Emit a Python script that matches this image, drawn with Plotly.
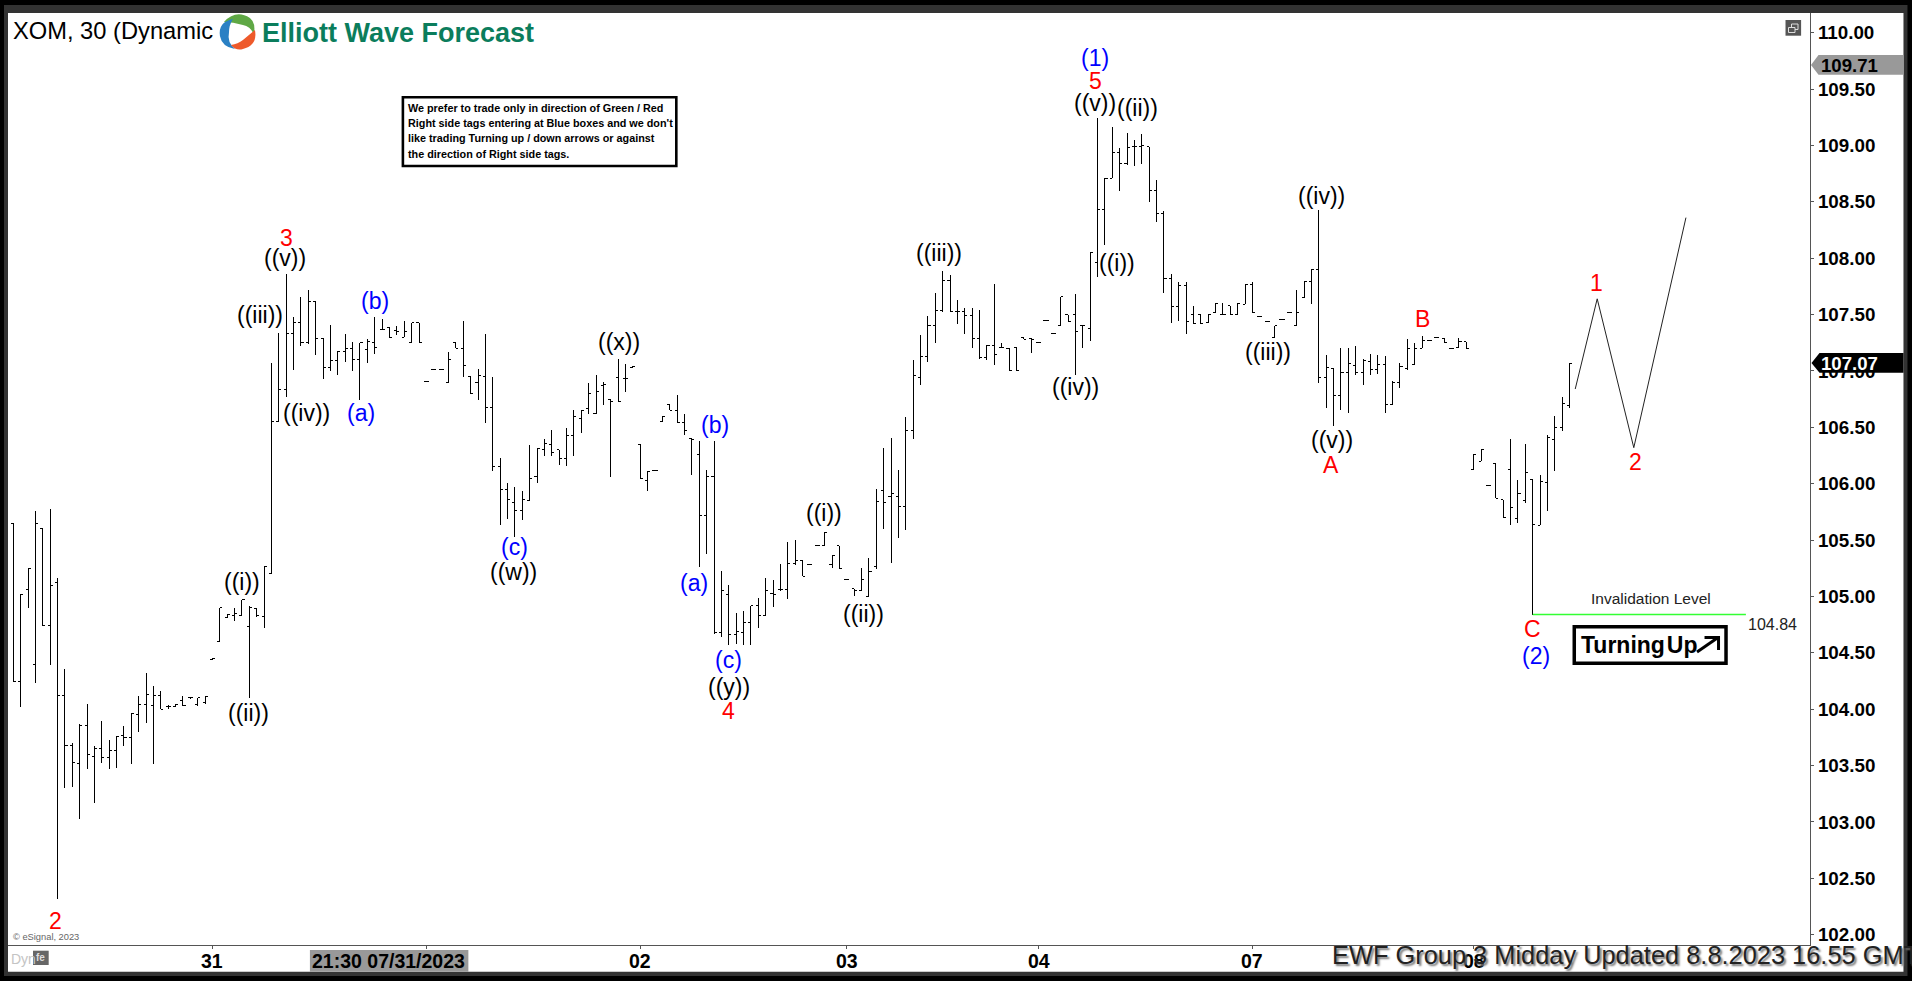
import plotly.graph_objects as go

# XOM 30 minute bars, one value per bar
open_ = [105.65,104.25,105.06,104.40,105.60,104.74,105.12,104.12,103.68,103.52,
         103.86,103.58,103.65,103.57,103.63,103.77,103.75,103.95,104.04,104.03,
         104.12,104.02,104.02,104.08,104.10,104.04,104.06,104.44,104.60,104.81,
         104.83,104.83,104.73,104.89,104.82,105.20,106.55,106.84,107.33,107.43,
         107.25,107.62,107.29,107.03,107.09,107.17,107.20,107.10,107.19,107.25,
         107.37,107.39,107.36,107.30,107.25,107.43,106.91,107.01,107.01,106.90,
         107.25,107.20,106.95,106.90,106.95,106.68,106.15,105.95,105.83,105.76,
         105.85,106.06,106.30,106.35,106.30,106.22,106.43,106.58,106.67,106.62,
         106.87,106.75,106.94,106.93,107.03,106.35,106.03,106.12,106.55,106.70,
         106.65,106.54,106.40,106.26,105.72,106.06,104.68,105.02,104.66,104.68,
         104.77,104.92,104.83,105.03,105.06,105.06,105.29,105.32,105.28,105.45,
         105.45,105.28,105.45,105.15,105.07,105.05,105.00,105.27,105.94,105.89,
         105.89,105.80,106.47,106.94,107.13,107.40,107.54,107.80,107.53,107.53,
         107.49,107.29,107.12,107.23,107.21,107.20,107.21,107.30,107.29,107.25,
         107.45,107.33,107.40,107.50,107.50,107.40,107.38,107.96,108.43,108.71,
         108.94,108.84,108.99,108.99,108.99,108.60,108.40,107.82,107.57,107.76,
         107.50,107.50,107.43,107.52,107.50,107.58,107.50,107.59,107.77,107.48,
         107.44,107.30,107.46,107.52,107.40,107.65,107.79,107.90,106.94,107.02,
         106.78,106.99,107.05,106.99,107.08,107.01,107.06,106.70,106.90,107.02,
         107.06,107.20,107.27,107.30,107.29,107.20,107.21,107.26,106.13,106.20,
         105.98,106.18,105.86,106.13,105.69,105.85,106.04,105.63,106.01,106.39,
         106.50,106.69]
high = [105.65,105.02,105.25,105.76,105.60,105.78,105.16,104.36,103.70,103.87,
        104.05,103.67,103.90,103.73,103.76,103.85,103.97,104.12,104.32,104.21,
        104.16,104.04,104.05,104.12,104.10,104.10,104.11,104.45,104.90,104.84,
        104.90,104.97,104.92,104.89,105.27,107.07,107.34,107.86,107.48,107.66,
        107.72,107.62,107.29,107.41,107.18,107.33,107.26,107.25,107.28,107.48,
        107.46,107.39,107.40,107.44,107.43,107.43,106.91,107.01,107.01,107.17,
        107.25,107.44,106.95,107.02,107.33,106.95,106.23,106.01,105.97,105.94,
        106.34,106.31,106.40,106.48,106.30,106.49,106.65,106.65,106.89,106.96,
        106.90,106.75,107.11,107.06,107.04,106.35,106.11,106.12,106.60,106.70,
        106.79,106.62,106.40,106.38,106.12,106.38,105.23,105.10,104.85,104.87,
        104.92,104.99,105.16,105.15,105.29,105.48,105.50,105.32,105.28,105.45,
        105.57,105.36,105.45,105.15,105.07,105.25,105.34,105.95,106.32,106.41,
        106.12,106.59,107.10,107.32,107.49,107.69,107.89,107.85,107.63,107.56,
        107.56,107.54,107.23,107.77,107.25,107.20,107.21,107.30,107.29,107.25,
        107.45,107.33,107.66,107.50,107.68,107.40,108.05,109.24,108.71,109.16,
        108.98,109.11,109.05,109.10,108.99,108.69,108.42,107.86,107.79,107.79,
        107.58,107.50,107.50,107.60,107.60,107.58,107.60,107.77,107.79,107.48,
        107.44,107.40,107.46,107.52,107.72,107.79,107.90,108.43,107.14,107.02,
        107.20,107.20,107.22,107.11,107.15,107.14,107.13,106.91,107.07,107.28,
        107.25,107.31,107.27,107.30,107.29,107.20,107.29,107.26,106.26,106.30,
        105.98,106.18,105.86,106.40,106.03,106.35,106.04,106.08,106.43,106.60,
        106.77,107.07]
low = [104.24,104.02,104.90,104.23,104.74,104.39,102.32,103.30,103.31,103.03,
       103.47,103.17,103.52,103.47,103.48,103.67,103.51,103.80,103.88,103.51,
       104.00,104.00,104.02,104.03,104.09,104.03,104.05,104.44,104.60,104.81,
       104.78,104.83,104.10,104.82,104.72,105.20,106.55,106.77,107.01,107.22,
       107.24,107.14,106.93,107.00,106.96,107.08,107.00,106.74,107.07,107.15,
       107.37,107.30,107.32,107.30,107.25,107.25,106.91,107.01,107.01,106.90,
       107.20,106.95,106.80,106.74,106.54,106.11,105.63,105.69,105.53,105.68,
       105.85,106.01,106.25,106.25,106.17,106.16,106.25,106.45,106.62,106.62,
       106.70,106.06,106.73,106.81,107.03,106.05,105.94,106.12,106.55,106.65,
       106.54,106.43,106.08,105.26,105.38,104.67,104.64,104.57,104.58,104.57,
       104.57,104.72,104.83,104.91,105.05,104.98,105.28,105.18,105.28,105.45,
       105.45,105.25,105.25,105.15,105.00,105.05,105.00,105.24,105.60,105.30,
       105.52,105.59,106.40,106.88,107.08,107.25,107.52,107.53,107.42,107.33,
       107.20,107.11,107.10,107.05,107.21,107.00,107.00,107.28,107.16,107.25,
       107.45,107.33,107.40,107.44,106.96,107.20,107.27,107.83,108.12,108.71,
       108.60,108.83,108.82,108.84,108.50,108.32,107.69,107.43,107.44,107.33,
       107.42,107.42,107.43,107.52,107.50,107.50,107.50,107.59,107.52,107.48,
       107.44,107.30,107.46,107.52,107.40,107.65,107.59,106.89,106.67,106.51,
       106.65,106.63,106.96,106.88,106.96,106.97,106.63,106.70,106.85,107.01,
       107.06,107.20,107.27,107.30,107.25,107.20,107.21,107.20,106.13,106.20,
       105.98,105.87,105.70,105.63,105.65,105.83,104.84,105.63,105.76,106.11,
       106.47,106.67]
close = [104.25,105.02,105.25,105.65,104.74,105.10,104.12,103.68,103.53,103.86,
         103.60,103.65,103.57,103.63,103.76,103.75,103.96,104.04,104.13,104.12,
         104.00,104.02,104.04,104.03,104.10,104.10,104.11,104.45,104.90,104.84,
         104.85,104.97,104.90,104.83,105.27,106.55,106.84,107.33,107.43,107.25,
         107.62,107.29,107.03,107.09,107.17,107.20,107.10,107.25,107.26,107.21,
         107.37,107.30,107.35,107.35,107.43,107.25,106.91,107.01,107.01,107.10,
         107.20,107.05,106.80,106.96,106.68,106.15,105.95,105.86,105.76,105.86,
         106.05,106.31,106.36,106.28,106.22,106.43,106.60,106.65,106.80,106.82,
         106.88,106.73,106.73,106.93,107.04,106.05,106.11,106.12,106.60,106.65,
         106.54,106.47,106.39,105.72,106.06,104.68,105.05,104.66,104.69,104.77,
         104.92,104.83,105.05,105.02,105.06,105.29,105.32,105.18,105.28,105.45,
         105.57,105.36,105.25,105.15,105.05,105.15,105.22,105.84,105.83,105.91,
         105.80,106.47,106.96,107.13,107.40,107.54,107.80,107.53,107.53,107.49,
         107.29,107.12,107.23,107.15,107.21,107.00,107.00,107.28,107.28,107.25,
         107.45,107.33,107.66,107.44,107.35,107.40,108.05,108.43,108.71,108.94,
         108.84,108.98,108.99,109.00,108.60,108.40,107.82,107.57,107.76,107.44,
         107.42,107.42,107.50,107.60,107.50,107.50,107.60,107.77,107.52,107.48,
         107.44,107.40,107.46,107.52,107.52,107.79,107.90,106.94,107.03,106.78,
         106.99,107.07,106.99,107.09,107.01,107.06,106.70,106.90,107.04,107.20,
         107.20,107.27,107.27,107.30,107.25,107.20,107.26,107.20,106.26,106.30,
         105.98,105.87,105.70,105.79,105.91,106.10,105.64,106.02,106.41,106.50,
         106.71,107.07]
bars = list(range(len(close)))

# projected path after the last bar
path_bars = [211.76, 214.74, 219.70, 226.77]
path_prices = [106.84, 107.64, 106.32, 108.36]

# invalidation level
inval_bars = [206, 234.9]
inval_prices = [104.84, 104.84]

# axis ticks
day_ticks = [27, 56, 85, 113, 139, 168, 198]
day_labels = ["31", "", "02", "03", "04", "07", "08"]
price_ticks = [102, 102.5, 103, 103.5, 104, 104.5, 105, 105.5, 106, 106.5,
               107, 107.5, 108, 108.5, 109, 109.5, 110]

# wave labels
black_text = ["((v))", "((iii))", "((iv))", "((i))", "((ii))", "((w))", "((x))", "((i))",
              "((ii))", "((y))", "((iii))", "((iv))", "((i))", "((iii))", "((v))", "((ii))",
              "((iv))", "((v))"]
black_bar = [36.9, 33.43, 39.8, 30.95, 31.94, 67.82, 82.05, 109.97,
             115.3, 97.0, 125.56, 144.03, 149.68, 170.15, 146.7, 152.44,
             177.41, 178.83]
black_price = [107.99, 107.49, 106.62, 105.12, 103.96, 105.21, 107.25, 105.73,
               104.84, 104.19, 108.04, 106.85, 107.95, 107.16, 109.37, 109.32,
               108.54, 106.38]
blue_text = ["(b)", "(a)", "(c)", "(b)", "(a)", "(c)", "(1)", "(2)"]
blue_bar = [49.02, 47.08, 68.0, 95.14, 92.22, 97.0, 146.7, 206.48]
blue_price = [107.61, 106.62, 105.43, 106.51, 105.11, 104.43, 109.77, 104.46]
red_text = ["3", "2", "4", "5", "A", "B", "1", "2", "C"]
red_bar = [37.0, 5.78, 96.9, 146.78, 178.64, 191.07, 214.69, 219.94, 206.02]
red_price = [108.18, 102.12, 103.98, 109.57, 106.17, 107.46, 107.78, 106.19, 104.71]

last_close = 107.07
last_high = 109.71
inval_level = 104.84

notice_lines = ["We prefer to trade only in direction of Green / Red",
                "Right side tags entering at Blue boxes and we don't",
                "like trading Turning up / down arrows or against",
                "the direction of Right side tags."]

ARIAL = "Liberation Sans"
PLOT_L, PLOT_R, PLOT_T, PLOT_B = 8, 1810.5, 13, 945


def fx(p):
    return (p - PLOT_L) / (PLOT_R - PLOT_L)


def fy(p):
    return (PLOT_B - p) / (PLOT_B - PLOT_T)


def box(x0, y0, x1, y1, fill=None, line=None, width=0, layer="above"):
    return dict(type="rect", xref="paper", yref="paper", x0=fx(x0), x1=fx(x1), y0=fy(y0), y1=fy(y1),
                fillcolor=fill if fill else "rgba(0,0,0,0)", layer=layer,
                line=dict(color=line if line else "rgba(0,0,0,0)", width=width))


def poly(points, fill=None, line=None, width=0, close_it=True):
    d = ""
    for p in points:
        if p[0] == "Q":
            d += f" Q{fx(p[1])},{fy(p[2])} {fx(p[3])},{fy(p[4])}"
        else:
            d += f" {'L' if d else 'M'}{fx(p[0])},{fy(p[1])}"
    if close_it:
        d += " Z"
    return dict(type="path", xref="paper", yref="paper", path=d.strip(), layer="above",
                fillcolor=fill if fill else "rgba(0,0,0,0)",
                line=dict(color=line if line else "rgba(0,0,0,0)", width=width))


def note(text, x, y, size, color="black", bold=False, anchor="left", shadow=None):
    font = dict(family=ARIAL, size=size, color=color, weight=700 if bold else 400)
    if shadow:
        font["shadow"] = shadow
    return dict(text=text, xref="paper", yref="paper", x=fx(x), y=fy(y), xanchor=anchor, yanchor="middle",
                showarrow=False, font=font, borderpad=0)


fig = go.Figure()
fig.add_trace(go.Ohlc(x=bars, open=open_, high=high, low=low, close=close, tickwidth=0.35,
                      increasing=dict(line=dict(color="black", width=1)),
                      decreasing=dict(line=dict(color="black", width=1)),
                      hoverinfo="skip", showlegend=False))
fig.add_trace(go.Scatter(x=path_bars, y=path_prices, mode="lines", line=dict(color="#222222", width=1),
                         hoverinfo="skip", showlegend=False))
fig.add_trace(go.Scatter(x=inval_bars, y=inval_prices, mode="lines", line=dict(color="#33ff33", width=1.6),
                         hoverinfo="skip", showlegend=False))

shapes = [
    box(4, 5, 1908, 976, fill="#333333", layer="below"),
    box(8, 13, 1904, 971.7, fill="white", layer="below"),
    # price tags on the right side
    poly([(1811.5, 65), (1819, 55), (1904, 55), (1904, 74.7), (1819, 74.7)], fill="#999999"),
    poly([(1812, 363), (1820, 353), (1904, 353), (1904, 372.7), (1820, 372.7)], fill="black"),
    # crosshair date tag
    box(310, 950, 468.5, 971.7, fill="#999999"),
    # notice box
    box(403, 97.3, 676.5, 166, fill="white", line="black", width=2.6),
    # Turning Up box
    box(1574.7, 626.7, 1726.5, 663.3, fill="white", line="black", width=3.5),
    poly([(1697.5, 652), (1718.5, 637.5)], line="black", width=3, close_it=False),
    poly([(1705, 637.5), (1719, 637.5), (1719, 650)], line="black", width=3, close_it=False),
    # restore icon
    box(1786, 20, 1801.6, 35.7, fill="#555555"),
    box(1792, 24, 1798.5, 29.5, line="#dddddd", width=1),
    box(1789, 27.5, 1795.5, 32.5, fill="#555555", line="#dddddd", width=1),
    # lock icon
    box(33, 950.7, 48.7, 965, fill="#666666"),
    # logo swirl
    poly([(224, 22), ("Q", 236, 9, 250, 18), ("Q", 256, 23, 254, 34), ("Q", 250, 26, 243, 25),
          ("Q", 233, 22, 224, 22)], fill="#5fa845"),
    poly([(233, 19), ("Q", 218, 22, 220, 36), ("Q", 222, 47, 235, 49), ("Q", 227, 42, 229, 33),
          ("Q", 229, 25, 233, 19)], fill="#2a80c4"),
    poly([(255, 30), ("Q", 258, 45, 243, 49), ("Q", 236, 51, 231, 45), ("Q", 238, 44, 243, 40),
          ("Q", 249, 35, 255, 30)], fill="#ee5a2b"),
]

annotations = []
for texts, xs, ys, col, nudge in [(black_text, black_bar, black_price, "black", 1),
                                  (blue_text, blue_bar, blue_price, "#0000ff", 1),
                                  (red_text, red_bar, red_price, "#ff0000", 0)]:
    for t, xv, yv in zip(texts, xs, ys):
        annotations.append(dict(text=t, x=xv, y=yv, xref="x", yref="y", showarrow=False, xanchor="center",
                                yanchor="middle", yshift=nudge, font=dict(family=ARIAL, size=23, color=col)))

annotations.append(dict(text="Invalidation Level", x=222.1, y=104.98, xref="x", yref="y", showarrow=False,
                        font=dict(family=ARIAL, size=15.5, color="#222222")))
annotations.append(dict(text=f"{inval_level:.2f}", x=238.5, y=104.75, xref="x", yref="y", showarrow=False,
                        font=dict(family=ARIAL, size=16, color="#222222")))

# day labels sit closer to the axis than plotly's tick labels can
for tick, lab in zip(day_ticks, day_labels):
    if lab:
        annotations.append(dict(text=lab, x=tick, y=fy(960.5), xref="x", yref="paper", showarrow=False,
                                xanchor="center", yanchor="middle",
                                font=dict(family=ARIAL, size=19.5, color="black", weight=700)))

annotations += [
    note("XOM, 30 (Dynamic", 12.5, 31, 23.7),
    note("Elliott Wave Forecast", 261, 33, 27, color="#0b7d5c", bold=True),
    note(f"{last_high:.2f}", 1821, 65, 18.6, bold=True),
    note(f"{last_close:.2f}", 1821, 363, 18.6, color="white", bold=True),
    note("21:30 07/31/2023", 389, 960.5, 19.5, bold=True, anchor="center"),
    note("Turning\u200aUp", 1580, 645, 23, bold=True),
    note("Dyn", 10, 959, 14, color="#c4c4c4"),
    note("fe", 40.8, 958, 10, color="#dddddd", bold=True, anchor="center"),
    note("\u00a9 eSignal, 2023", 12, 937, 9.3, color="#666666"),
    note("EWF Group 3 Midday Updated 8.8.2023 16.55 GMT", 1331, 955, 25.4, color="#222222",
         shadow="2px 2px 2px #777777"),
]
for line_text, line_y in zip(notice_lines, [108.3, 123.3, 138.3, 154]):
    annotations.append(note(line_text, 407.5, line_y, 10.8, bold=True))

fig.update_layout(
    width=1912, height=981,
    margin=dict(l=PLOT_L, r=1912 - PLOT_R, t=PLOT_T, b=981 - PLOT_B, pad=0, autoexpand=False),
    paper_bgcolor="black",
    plot_bgcolor="white",
    showlegend=False,
    hovermode=False,
    shapes=shapes,
    annotations=annotations,
    xaxis=dict(range=[-0.722, 243.59], rangeslider=dict(visible=False), showgrid=False, zeroline=False,
               tickmode="array", tickvals=day_ticks, showticklabels=False, ticks="outside", ticklen=3,
               tickcolor="#555555", showline=True, linecolor="#555555", linewidth=1.3),
    yaxis=dict(range=[101.909, 110.175], side="right", showgrid=False, zeroline=False,
               tickmode="array", tickvals=price_ticks, tickformat=".2f", ticks="outside", ticklen=3,
               tickcolor="#555555", showline=True, linecolor="#555555", linewidth=1.3,
               tickfont=dict(family=ARIAL, size=18.8, color="black", weight=700)),
)

fig.write_html("out.html", config=dict(displayModeBar=False),
               post_script="document.body.style.margin='0';document.body.style.overflow='hidden';"
                           "document.body.style.background='black';"
                           "document.querySelectorAll('.ohlc path').forEach(function(p){"
                           "p.style.shapeRendering='crispEdges';});")
